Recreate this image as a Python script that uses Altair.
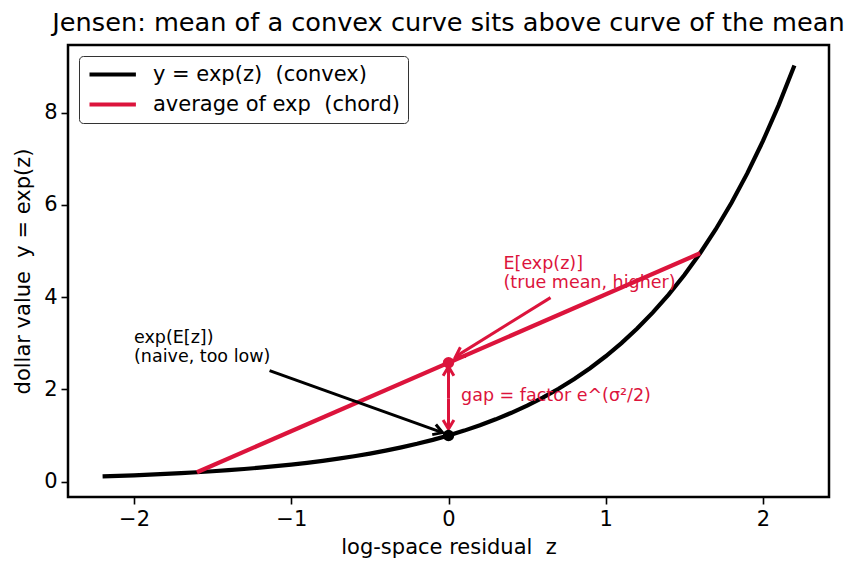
import altair as alt
import pandas as pd
import numpy as np

# ---- data ----
z_vals = [-2.2, -2.1, -2.0, -1.9, -1.8, -1.7, -1.6, -1.5, -1.4, -1.3, -1.2, -1.1,
          -1.0, -0.9, -0.8, -0.7, -0.6, -0.5, -0.4, -0.3, -0.2, -0.1, 0.0,
          0.1, 0.2, 0.3, 0.4, 0.5, 0.6, 0.7, 0.8, 0.9, 1.0, 1.1, 1.2, 1.3,
          1.4, 1.5, 1.6, 1.7, 1.8, 1.9, 2.0, 2.1, 2.2]
y_vals = [0.1108, 0.1225, 0.1353, 0.1496, 0.1653, 0.1827, 0.2019, 0.2231, 0.2466,
          0.2725, 0.3012, 0.3329, 0.3679, 0.4066, 0.4493, 0.4966, 0.5488, 0.6065,
          0.6703, 0.7408, 0.8187, 0.9048, 1.0, 1.1052, 1.2214, 1.3499, 1.4918,
          1.6487, 1.8221, 2.0138, 2.2255, 2.4596, 2.7183, 3.0042, 3.3201, 3.6693,
          4.0552, 4.4817, 4.9530, 5.4739, 6.0496, 6.6859, 7.3891, 8.1662, 9.0250]
chord_z = [-1.6, 1.6]
chord_y = [0.2019, 4.9530]
series_names = ["y = exp(z) \u00a0(convex)", "average of exp \u00a0(chord)"]
series_colors = ["black", "crimson"]

point_z = [0.0, 0.0]
point_y = [1.0, 2.577]
point_col = ["black", "crimson"]

# arrows: start -> tip
arrow_x1 = [-1.138, 0.649, 0.0, 0.0]
arrow_y1 = [2.407, 3.99, 1.80, 1.80]
arrow_x2 = [-0.038, 0.045, 0.0, 0.0]
arrow_y2 = [1.062, 2.71, 2.49, 1.14]
arrow_col = ["black", "crimson", "crimson", "crimson"]
arrow_w = [3.0, 3.0, 3.0, 3.0]

labels_text = ["exp(E[z])\n(naive, too low)", "E[exp(z)]\n(true mean, higher)"]
labels_x = [-2.0, 0.35]
labels_y = [2.6, 4.2]
labels_col = ["black", "crimson"]

gap_text = ["gap = factor e^(σ²/2)"]
gap_x = [0.08]
gap_y = [1.79]

x_domain = [-2.42, 2.42]
y_domain = [-0.335, 9.471]
W, H = 761, 452

# ---- tables ----
lines_df = pd.concat([
    pd.DataFrame({"z": z_vals, "y": y_vals, "series": series_names[0], "o": range(len(z_vals))}),
    pd.DataFrame({"z": chord_z, "y": chord_y, "series": series_names[1], "o": range(2)}),
])
pts_df = pd.DataFrame({"z": point_z, "y": point_y, "c": point_col})
arr_df = pd.DataFrame({"x1": arrow_x1, "y1": arrow_y1, "x2": arrow_x2, "y2": arrow_y2,
                       "c": arrow_col, "w": arrow_w})
# head angle in screen space (clockwise degrees)
sx = W / (x_domain[1] - x_domain[0])
sy = H / (y_domain[1] - y_domain[0])
dxp = (arr_df.x2 - arr_df.x1) * sx
dyp = -(arr_df.y2 - arr_df.y1) * sy
arr_df["ang"] = (np.degrees(np.arctan2(dyp, dxp)) % 360).round(2)
lab_df = pd.DataFrame({"t": labels_text, "z": labels_x, "y": labels_y, "c": labels_col})
gap_df = pd.DataFrame({"t": gap_text, "z": gap_x, "y": gap_y})

FONT = "DejaVu Sans"
xs = alt.Scale(domain=x_domain, nice=False, zero=False)
ys = alt.Scale(domain=y_domain, nice=False, zero=False)

xax = alt.Axis(values=[-2, -1, 0, 1, 2], format="d", title="log-space residual \u00a0z",
               grid=False, domain=False, tickColor="black", tickSize=7, tickWidth=1.6,
               labelFontSize=21, titleFontSize=21, labelPadding=4, titlePadding=7,
               labelColor="black", titleColor="black", titleFontWeight="normal")
yax = alt.Axis(values=[0, 2, 4, 6, 8], format="d", title="dollar value \u00a0y = exp(z)",
               grid=False, domain=False, tickColor="black", tickSize=7, tickWidth=1.6,
               labelFontSize=21, titleFontSize=21, labelPadding=4, titlePadding=10,
               labelColor="black", titleColor="black", titleFontWeight="normal")

base_lines = alt.Chart(lines_df).mark_line(strokeWidth=4.2, clip=True).encode(
    x=alt.X("z:Q", scale=xs, axis=xax),
    y=alt.Y("y:Q", scale=ys, axis=yax),
    color=alt.Color("series:N", scale=alt.Scale(domain=series_names, range=series_colors),
                    legend=alt.Legend(title=None, orient="none", legendX=11, legendY=11,
                                      symbolType="M -1 0 L 4.8 0", symbolSize=256,
                                      symbolStrokeWidth=4, labelFontSize=21,
                                      labelOffset=45, rowPadding=8, padding=8,
                                      fillColor="white", strokeColor="#333333",
                                      cornerRadius=4, labelLimit=400,
                                      labelColor="black", labelFont=FONT)),
    order="o:Q",
)

pts = alt.Chart(pts_df).mark_point(filled=True, size=130, opacity=1).encode(
    x=alt.X("z:Q", scale=xs), y=alt.Y("y:Q", scale=ys),
    color=alt.Color("c:N", scale=None),
)

arr_lines = alt.Chart(arr_df).mark_rule().encode(
    x=alt.X("x1:Q", scale=xs), y=alt.Y("y1:Q", scale=ys),
    x2="x2:Q", y2="y2:Q",
    color=alt.Color("c:N", scale=None),
    strokeWidth=alt.StrokeWidth("w:Q", scale=None),
)

arr_heads = alt.Chart(arr_df).mark_point(
    shape="M -1 -0.6 L 0 0 L -1 0.6", filled=False, size=324, strokeWidth=3,
    opacity=1, strokeJoin="miter").encode(
    x=alt.X("x2:Q", scale=xs), y=alt.Y("y2:Q", scale=ys),
    color=alt.Color("c:N", scale=None),
    angle=alt.Angle("ang:Q", scale=None),
)

labs = alt.Chart(lab_df).mark_text(align="left", baseline="alphabetic", fontSize=17.5,
                                   lineBreak="\n", lineHeight=19, dy=-19, font=FONT).encode(
    x=alt.X("z:Q", scale=xs), y=alt.Y("y:Q", scale=ys),
    text="t:N", color=alt.Color("c:N", scale=None),
)

gap = alt.Chart(gap_df).mark_text(align="left", baseline="middle", fontSize=17.5,
                                  color="crimson", font=FONT, dy=-3).encode(
    x=alt.X("z:Q", scale=xs), y=alt.Y("y:Q", scale=ys), text="t:N",
)

chart = alt.layer(base_lines, arr_lines, arr_heads, pts, labs, gap).properties(
    width=W, height=H,
    title=alt.TitleParams("Jensen: mean of a convex curve sits above curve of the mean",
                          fontSize=25.6, fontWeight="normal", font=FONT, color="black",
                          anchor="middle", offset=8),
    autosize=alt.AutoSizeParams(type="none"),
    padding={"left": 68, "top": 45, "right": 29, "bottom": 76},
).configure(font=FONT).configure_view(stroke="black", strokeWidth=2.5)

chart.save("out.html", embed_options={"renderer": "svg", "actions": False})
